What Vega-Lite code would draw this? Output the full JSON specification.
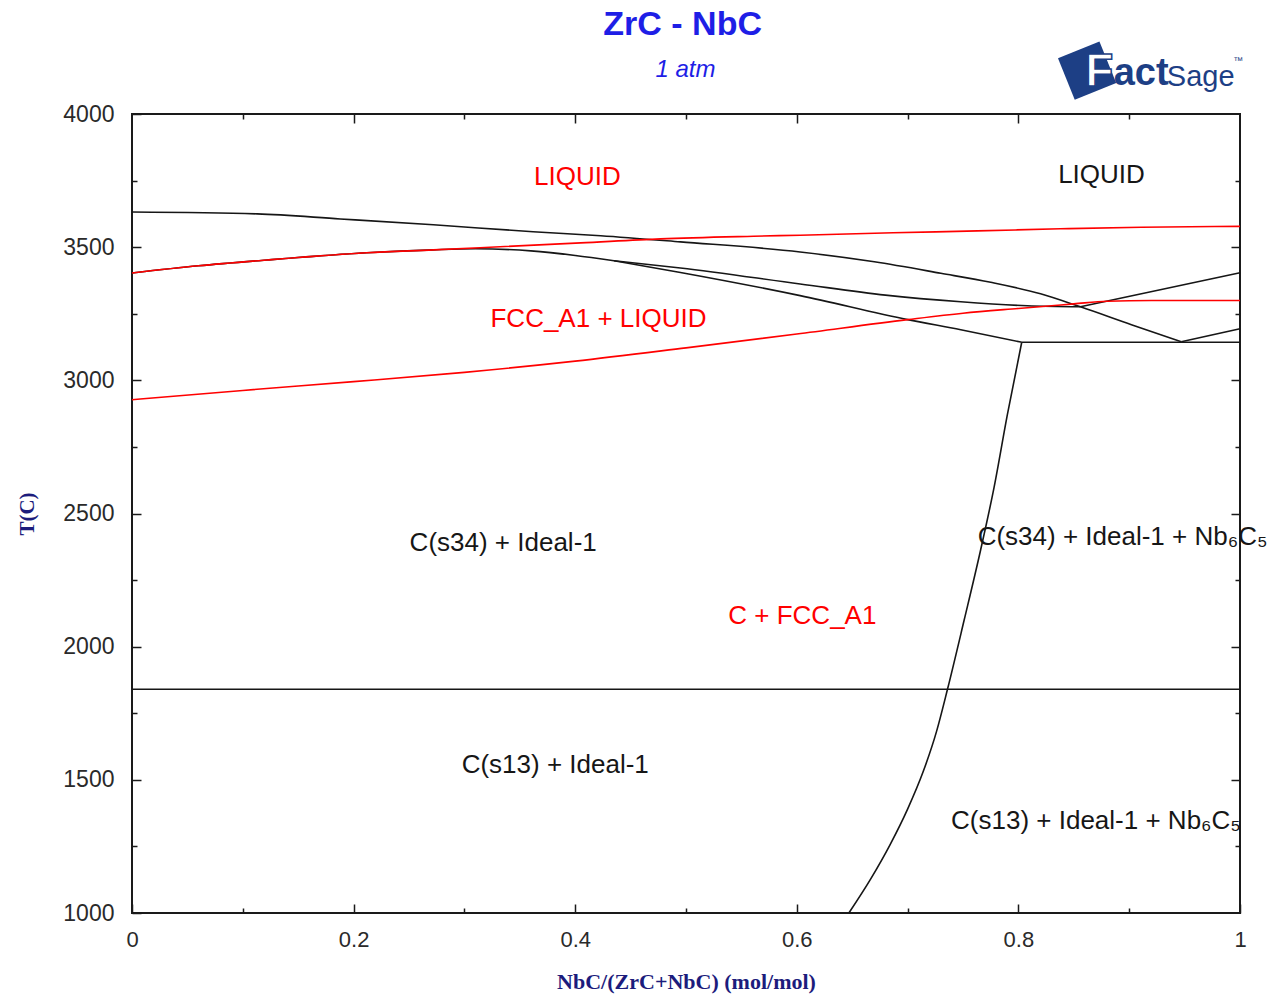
{
  "$schema": "https://vega.github.io/schema/vega-lite/v6.json",
  "width": 1108,
  "height": 799,
  "autosize": {"type": "none"},
  "padding": {"left": 132, "top": 114, "right": 36, "bottom": 86},
  "background": "white",
  "config": {
    "view": {"stroke": "#1a1a1a", "strokeWidth": 2},
    "axis": {
      "domain": false,
      "grid": false,
      "labelFont": "Liberation Sans",
      "labelColor": "#2a2a2a",
      "tickColor": "#1a1a1a",
      "tickWidth": 1.5,
      "labelFlush": false,
      "labelOverlap": false
    }
  },
  "datasets": {
    "curves": [
      {"model": "Ideal", "curve": "liquidus", "x": 0, "T": 3632},
      {"model": "Ideal", "curve": "liquidus", "x": 0.113, "T": 3625},
      {"model": "Ideal", "curve": "liquidus", "x": 0.188, "T": 3606},
      {"model": "Ideal", "curve": "liquidus", "x": 0.272, "T": 3584},
      {"model": "Ideal", "curve": "liquidus", "x": 0.362, "T": 3558},
      {"model": "Ideal", "curve": "liquidus", "x": 0.423, "T": 3543},
      {"model": "Ideal", "curve": "liquidus", "x": 0.495, "T": 3520},
      {"model": "Ideal", "curve": "liquidus", "x": 0.603, "T": 3482},
      {"model": "Ideal", "curve": "liquidus", "x": 0.67, "T": 3445},
      {"model": "Ideal", "curve": "liquidus", "x": 0.73, "T": 3402},
      {"model": "Ideal", "curve": "liquidus", "x": 0.775, "T": 3368},
      {"model": "Ideal", "curve": "liquidus", "x": 0.82, "T": 3325},
      {"model": "Ideal", "curve": "liquidus", "x": 0.856, "T": 3276},
      {"model": "Ideal", "curve": "liquidus", "x": 0.902, "T": 3209},
      {"model": "Ideal", "curve": "liquidus", "x": 0.947, "T": 3145},

      {"model": "Ideal", "curve": "solidus", "x": 0, "T": 3403},
      {"model": "Ideal", "curve": "solidus", "x": 0.06, "T": 3430},
      {"model": "Ideal", "curve": "solidus", "x": 0.122, "T": 3452},
      {"model": "Ideal", "curve": "solidus", "x": 0.212, "T": 3479},
      {"model": "Ideal", "curve": "solidus", "x": 0.272, "T": 3490},
      {"model": "Ideal", "curve": "solidus", "x": 0.31, "T": 3494},
      {"model": "Ideal", "curve": "solidus", "x": 0.36, "T": 3486},
      {"model": "Ideal", "curve": "solidus", "x": 0.4, "T": 3469},
      {"model": "Ideal", "curve": "solidus", "x": 0.435, "T": 3449},

      {"model": "Ideal", "curve": "branch upper", "x": 0.435, "T": 3449},
      {"model": "Ideal", "curve": "branch upper", "x": 0.495, "T": 3422},
      {"model": "Ideal", "curve": "branch upper", "x": 0.603, "T": 3362},
      {"model": "Ideal", "curve": "branch upper", "x": 0.68, "T": 3320},
      {"model": "Ideal", "curve": "branch upper", "x": 0.748, "T": 3295},
      {"model": "Ideal", "curve": "branch upper", "x": 0.808, "T": 3280},
      {"model": "Ideal", "curve": "branch upper", "x": 0.856, "T": 3276},

      {"model": "Ideal", "curve": "branch lower", "x": 0.435, "T": 3449},
      {"model": "Ideal", "curve": "branch lower", "x": 0.495, "T": 3405},
      {"model": "Ideal", "curve": "branch lower", "x": 0.603, "T": 3318},
      {"model": "Ideal", "curve": "branch lower", "x": 0.7, "T": 3228},
      {"model": "Ideal", "curve": "branch lower", "x": 0.748, "T": 3190},
      {"model": "Ideal", "curve": "branch lower", "x": 0.803, "T": 3143},

      {"model": "Ideal", "curve": "right liquidus upper", "x": 0.856, "T": 3276},
      {"model": "Ideal", "curve": "right liquidus upper", "x": 1.0, "T": 3404},

      {"model": "Ideal", "curve": "right liquidus lower", "x": 0.947, "T": 3145},
      {"model": "Ideal", "curve": "right liquidus lower", "x": 1.0, "T": 3194},

      {"model": "Ideal", "curve": "invariant 3143", "x": 0.803, "T": 3143},
      {"model": "Ideal", "curve": "invariant 3143", "x": 1.0, "T": 3143},

      {"model": "Ideal", "curve": "transition 1840", "x": 0, "T": 1840},
      {"model": "Ideal", "curve": "transition 1840", "x": 1.0, "T": 1840},

      {"model": "Ideal", "curve": "solvus", "x": 0.647, "T": 1000},
      {"model": "Ideal", "curve": "solvus", "x": 0.667, "T": 1130},
      {"model": "Ideal", "curve": "solvus", "x": 0.684, "T": 1255},
      {"model": "Ideal", "curve": "solvus", "x": 0.7, "T": 1390},
      {"model": "Ideal", "curve": "solvus", "x": 0.714, "T": 1530},
      {"model": "Ideal", "curve": "solvus", "x": 0.726, "T": 1680},
      {"model": "Ideal", "curve": "solvus", "x": 0.736, "T": 1840},
      {"model": "Ideal", "curve": "solvus", "x": 0.751, "T": 2099},
      {"model": "Ideal", "curve": "solvus", "x": 0.766, "T": 2365},
      {"model": "Ideal", "curve": "solvus", "x": 0.778, "T": 2597},
      {"model": "Ideal", "curve": "solvus", "x": 0.79, "T": 2870},
      {"model": "Ideal", "curve": "solvus", "x": 0.803, "T": 3143},

      {"model": "FCC_A1", "curve": "fcc liquidus", "x": 0, "T": 3403},
      {"model": "FCC_A1", "curve": "fcc liquidus", "x": 0.06, "T": 3430},
      {"model": "FCC_A1", "curve": "fcc liquidus", "x": 0.122, "T": 3452},
      {"model": "FCC_A1", "curve": "fcc liquidus", "x": 0.212, "T": 3479},
      {"model": "FCC_A1", "curve": "fcc liquidus", "x": 0.272, "T": 3490},
      {"model": "FCC_A1", "curve": "fcc liquidus", "x": 0.314, "T": 3498},
      {"model": "FCC_A1", "curve": "fcc liquidus", "x": 0.405, "T": 3516},
      {"model": "FCC_A1", "curve": "fcc liquidus", "x": 0.477, "T": 3531},
      {"model": "FCC_A1", "curve": "fcc liquidus", "x": 0.561, "T": 3541},
      {"model": "FCC_A1", "curve": "fcc liquidus", "x": 0.603, "T": 3545},
      {"model": "FCC_A1", "curve": "fcc liquidus", "x": 0.687, "T": 3554},
      {"model": "FCC_A1", "curve": "fcc liquidus", "x": 0.763, "T": 3561},
      {"model": "FCC_A1", "curve": "fcc liquidus", "x": 0.838, "T": 3569},
      {"model": "FCC_A1", "curve": "fcc liquidus", "x": 0.911, "T": 3575},
      {"model": "FCC_A1", "curve": "fcc liquidus", "x": 1.0, "T": 3578},

      {"model": "FCC_A1", "curve": "fcc solidus", "x": 0, "T": 2927},
      {"model": "FCC_A1", "curve": "fcc solidus", "x": 0.1, "T": 2962},
      {"model": "FCC_A1", "curve": "fcc solidus", "x": 0.2, "T": 2995},
      {"model": "FCC_A1", "curve": "fcc solidus", "x": 0.3, "T": 3030},
      {"model": "FCC_A1", "curve": "fcc solidus", "x": 0.4, "T": 3072},
      {"model": "FCC_A1", "curve": "fcc solidus", "x": 0.5, "T": 3122},
      {"model": "FCC_A1", "curve": "fcc solidus", "x": 0.6, "T": 3174},
      {"model": "FCC_A1", "curve": "fcc solidus", "x": 0.7, "T": 3228},
      {"model": "FCC_A1", "curve": "fcc solidus", "x": 0.75, "T": 3252},
      {"model": "FCC_A1", "curve": "fcc solidus", "x": 0.8, "T": 3270},
      {"model": "FCC_A1", "curve": "fcc solidus", "x": 0.85, "T": 3287},
      {"model": "FCC_A1", "curve": "fcc solidus", "x": 0.88, "T": 3297},
      {"model": "FCC_A1", "curve": "fcc solidus", "x": 0.92, "T": 3300},
      {"model": "FCC_A1", "curve": "fcc solidus", "x": 1.0, "T": 3300}
    ],
    "regions": [
      {"model": "FCC_A1", "label": "LIQUID", "x": 0.402, "T": 3764},
      {"model": "Ideal", "label": "LIQUID", "x": 0.875, "T": 3771},
      {"model": "FCC_A1", "label": "FCC_A1 + LIQUID", "x": 0.421, "T": 3231},
      {"model": "Ideal", "label": "C(s34) + Ideal-1", "x": 0.335, "T": 2391},
      {"model": "FCC_A1", "label": "C + FCC_A1", "x": 0.605, "T": 2117},
      {"model": "Ideal", "label": "C(s34) + Ideal-1 + Nb₆C₅", "x": 0.894, "T": 2410},
      {"model": "Ideal", "label": "C(s13) + Ideal-1", "x": 0.382, "T": 1555},
      {"model": "Ideal", "label": "C(s13) + Ideal-1 + Nb₆C₅", "x": 0.87, "T": 1345}
    ],
    "headings": [
      {"level": "main", "text": "ZrC - NbC", "x": 0.497, "T": 4334},
      {"level": "sub", "text": "1 atm", "x": 0.4995, "T": 4165}
    ],
    "logo": [
      {"part": "badge", "text": "", "x": 0.862, "T": 4163},
      {"part": "initial", "text": "F", "x": 0.873, "T": 4157},
      {"part": "bold", "text": "act", "x": 0.886, "T": 4108},
      {"part": "light", "text": "Sage", "x": 0.934, "T": 4104},
      {"part": "tm", "text": "™", "x": 0.994, "T": 4200}
    ]
  },
  "layer": [
    {
      "data": {"name": "curves"},
      "mark": {"type": "line", "strokeWidth": 1.6, "interpolate": "monotone"},
      "encoding": {
        "x": {
          "field": "x", "type": "quantitative",
          "scale": {"domain": [0, 1], "nice": false, "zero": false},
          "axis": {
            "orient": "bottom",
            "values": [0, 0.2, 0.4, 0.6, 0.8, 1],
            "format": "~g",
            "tickSize": -9,
            "labelPadding": 25,
            "labelFontSize": 22,
            "title": "NbC/(ZrC+NbC) (mol/mol)",
            "titleFont": "Liberation Serif",
            "titleFontSize": 22,
            "titleFontWeight": "bold",
            "titleColor": "#1c1c7c",
            "titlePadding": 21
          }
        },
        "y": {
          "field": "T", "type": "quantitative",
          "scale": {"domain": [1000, 4000], "nice": false, "zero": false},
          "axis": {
            "orient": "left",
            "values": [1000, 1500, 2000, 2500, 3000, 3500, 4000],
            "format": "d",
            "tickSize": -9,
            "labelPadding": 27,
            "labelFontSize": 23,
            "title": "T(C)",
            "titleFont": "Liberation Serif",
            "titleFontSize": 21,
            "titleFontWeight": "bold",
            "titleColor": "#1c1c7c",
            "titlePadding": 25
          }
        },
        "color": {
          "field": "model", "type": "nominal",
          "scale": {"domain": ["Ideal", "FCC_A1"], "range": ["#161616", "#ff0000"]},
          "legend": null
        },
        "detail": {"field": "curve", "type": "nominal"}
      }
    },
    {
      "data": {"name": "regions"},
      "mark": {"type": "text", "font": "Liberation Sans", "fontSize": 26, "align": "center", "baseline": "middle"},
      "encoding": {
        "x": {
          "field": "x", "type": "quantitative",
          "axis": {"orient": "bottom", "values": [0.1, 0.3, 0.5, 0.7, 0.9], "tickSize": -5, "labels": false, "title": null}
        },
        "y": {
          "field": "T", "type": "quantitative",
          "axis": {"orient": "left", "values": [1250, 1750, 2250, 2750, 3250, 3750], "tickSize": -5, "labels": false, "title": null}
        },
        "text": {"field": "label"},
        "color": {"field": "model", "type": "nominal", "legend": null}
      }
    },
    {
      "data": {"name": "headings"},
      "transform": [{"filter": "datum.level === 'main'"}],
      "mark": {"type": "text", "font": "Liberation Sans", "fontSize": 34, "fontWeight": "bold", "align": "center", "baseline": "middle", "color": "#1e1ee6"},
      "encoding": {
        "x": {"field": "x", "type": "quantitative", "axis": null},
        "y": {"field": "T", "type": "quantitative", "axis": null},
        "text": {"field": "text"}
      }
    },
    {
      "data": {"name": "headings"},
      "transform": [{"filter": "datum.level === 'sub'"}],
      "mark": {"type": "text", "font": "Liberation Sans", "fontSize": 24, "fontStyle": "italic", "align": "center", "baseline": "middle", "color": "#1e1ee6"},
      "encoding": {
        "x": {"field": "x", "type": "quantitative", "axis": null},
        "y": {"field": "T", "type": "quantitative", "axis": null},
        "text": {"field": "text"}
      }
    },
    {
      "data": {"name": "logo"},
      "transform": [{"filter": "datum.part === 'badge'"}],
      "mark": {"type": "point", "shape": "square", "filled": true, "size": 2000, "angle": -22, "color": "#1d3f85", "opacity": 1},
      "encoding": {
        "x": {
          "field": "x", "type": "quantitative",
          "axis": {"orient": "top", "values": [0.2, 0.4, 0.6, 0.8], "tickSize": -9, "labels": false, "title": null}
        },
        "y": {
          "field": "T", "type": "quantitative",
          "axis": {"orient": "right", "values": [1500, 2000, 2500, 3000, 3500], "tickSize": -9, "labels": false, "title": null}
        }
      }
    },
    {
      "data": {"name": "logo"},
      "transform": [{"filter": "datum.part === 'initial'"}],
      "mark": {"type": "text", "font": "Liberation Sans", "fontWeight": "bold", "fontSize": 46, "align": "center", "baseline": "middle", "fill": "white", "stroke": "#1d3f85", "strokeWidth": 1.5},
      "encoding": {
        "x": {"field": "x", "type": "quantitative", "axis": null},
        "y": {"field": "T", "type": "quantitative", "axis": null},
        "text": {"field": "text"}
      }
    },
    {
      "data": {"name": "logo"},
      "transform": [{"filter": "datum.part === 'bold'"}],
      "mark": {"type": "text", "font": "Liberation Sans", "fontWeight": "bold", "fontSize": 38, "align": "left", "baseline": "alphabetic", "color": "#1d3f85"},
      "encoding": {
        "x": {
          "field": "x", "type": "quantitative",
          "axis": {"orient": "top", "values": [0.1, 0.3, 0.5, 0.7, 0.9], "tickSize": -5, "labels": false, "title": null}
        },
        "y": {
          "field": "T", "type": "quantitative",
          "axis": {"orient": "right", "values": [1250, 1750, 2250, 2750, 3250, 3750], "tickSize": -5, "labels": false, "title": null}
        },
        "text": {"field": "text"}
      }
    },
    {
      "data": {"name": "logo"},
      "transform": [{"filter": "datum.part === 'light'"}],
      "mark": {"type": "text", "font": "Liberation Sans", "fontSize": 29, "align": "left", "baseline": "alphabetic", "color": "#1d3f85"},
      "encoding": {
        "x": {"field": "x", "type": "quantitative", "axis": null},
        "y": {"field": "T", "type": "quantitative", "axis": null},
        "text": {"field": "text"}
      }
    },
    {
      "data": {"name": "logo"},
      "transform": [{"filter": "datum.part === 'tm'"}],
      "mark": {"type": "text", "font": "Liberation Sans", "fontSize": 10, "align": "left", "baseline": "middle", "color": "#1d3f85"},
      "encoding": {
        "x": {"field": "x", "type": "quantitative", "axis": null},
        "y": {"field": "T", "type": "quantitative", "axis": null},
        "text": {"field": "text"}
      }
    }
  ],
  "resolve": {"axis": {"x": "independent", "y": "independent"}}
}
